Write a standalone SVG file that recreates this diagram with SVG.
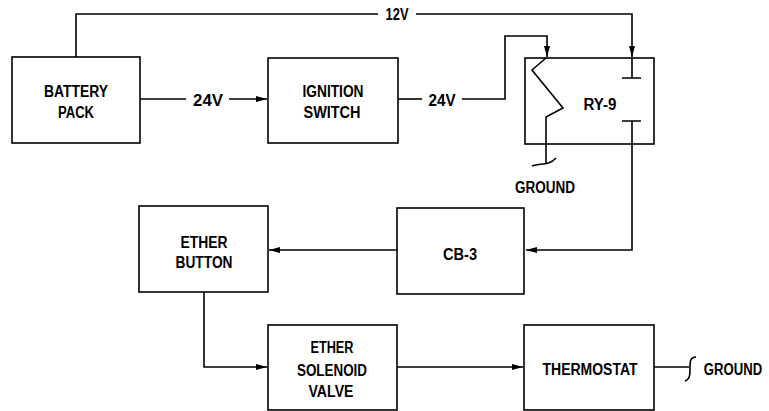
<svg xmlns="http://www.w3.org/2000/svg" width="769" height="411" viewBox="0 0 769 411">
<style>
.box{fill:#fff;stroke:#000;stroke-width:1.6}
.ln{fill:none;stroke:#000;stroke-width:1.6}
text{font-family:"Liberation Sans",Arial,sans-serif;font-weight:bold;font-size:16px;fill:#000;text-anchor:middle}
</style>
<defs>
<marker id="ah" markerWidth="12" markerHeight="8" refX="11" refY="4" orient="auto" markerUnits="userSpaceOnUse">
<path d="M0,1 L11,4 L0,7 Z" fill="#000"/>
</marker>
</defs>
<rect width="769" height="411" fill="#fff"/>
<g id="connectors">
<path class="ln" d="M76 57 V14 H378"/>
<path class="ln" d="M416 14 H632 V57" marker-end="url(#ah)"/>
<path class="ln" d="M140 99 H186"/>
<path class="ln" d="M229 99 H267" marker-end="url(#ah)"/>
<path class="ln" d="M398 99 H422"/>
<path class="ln" d="M462 99 H505 V36 H547 V57" marker-end="url(#ah)"/>
<path class="ln" d="M632 144 V250 H526" marker-end="url(#ah)"/>
<path class="ln" d="M397 250 H269" marker-end="url(#ah)"/>
<path class="ln" d="M204 292 V367 H267" marker-end="url(#ah)"/>
<path class="ln" d="M397 367 H523" marker-end="url(#ah)"/>
<path class="ln" d="M654 367 H689"/>
<path class="ln" d="M696 357 C690 357 690 362 690 368 C690 375 690 379 685 381"/>
<path class="ln" d="M546 144 V164"/>
<path class="ln" d="M532 166 C540 163 549 166 556 158"/>
</g>
<g id="battery"><rect class="box" x="12" y="57" width="128" height="86"/><text x="76" y="97" textLength="64" lengthAdjust="spacingAndGlyphs">BATTERY</text><text x="76" y="118" textLength="36" lengthAdjust="spacingAndGlyphs">PACK</text></g>
<g id="ignition"><rect class="box" x="268" y="58" width="130" height="85"/><text x="333" y="97" textLength="61" lengthAdjust="spacingAndGlyphs">IGNITION</text><text x="332" y="118" textLength="57" lengthAdjust="spacingAndGlyphs">SWITCH</text></g>
<g id="ry9"><rect class="box" x="525" y="58" width="129" height="86"/>
<path class="ln" d="M546 58 L532 70 L563 108 L546 117 V144"/>
<path class="ln" d="M632 58 V78 M622 78 H641 M622 121 H641 M632 121 V144"/>
<text x="600" y="110" textLength="33" lengthAdjust="spacingAndGlyphs">RY-9</text></g>
<g id="cb3"><rect class="box" x="397" y="208" width="127" height="86"/><text x="460" y="260" textLength="34" lengthAdjust="spacingAndGlyphs">CB-3</text></g>
<g id="etherbutton"><rect class="box" x="139" y="206" width="129" height="86"/><text x="204" y="248" textLength="47" lengthAdjust="spacingAndGlyphs">ETHER</text><text x="204" y="268" textLength="57" lengthAdjust="spacingAndGlyphs">BUTTON</text></g>
<g id="solenoid"><rect class="box" x="268" y="325" width="129" height="85"/><text x="332" y="353" textLength="43" lengthAdjust="spacingAndGlyphs">ETHER</text><text x="332" y="376" textLength="70" lengthAdjust="spacingAndGlyphs">SOLENOID</text><text x="331" y="397" textLength="45" lengthAdjust="spacingAndGlyphs">VALVE</text></g>
<g id="thermostat"><rect class="box" x="524" y="325" width="130" height="85"/><text x="590" y="375" textLength="95" lengthAdjust="spacingAndGlyphs">THERMOSTAT</text></g>
<g id="labels">
<text x="397" y="20" textLength="23" lengthAdjust="spacingAndGlyphs">12V</text>
<text x="208" y="106" textLength="30" lengthAdjust="spacingAndGlyphs">24V</text>
<text x="442" y="106" textLength="27" lengthAdjust="spacingAndGlyphs">24V</text>
<text x="545" y="193" textLength="60" lengthAdjust="spacingAndGlyphs">GROUND</text>
<text transform="translate(733,375) scale(0.82,1)" x="0" y="0">GROUND</text>
</g>
</svg>
